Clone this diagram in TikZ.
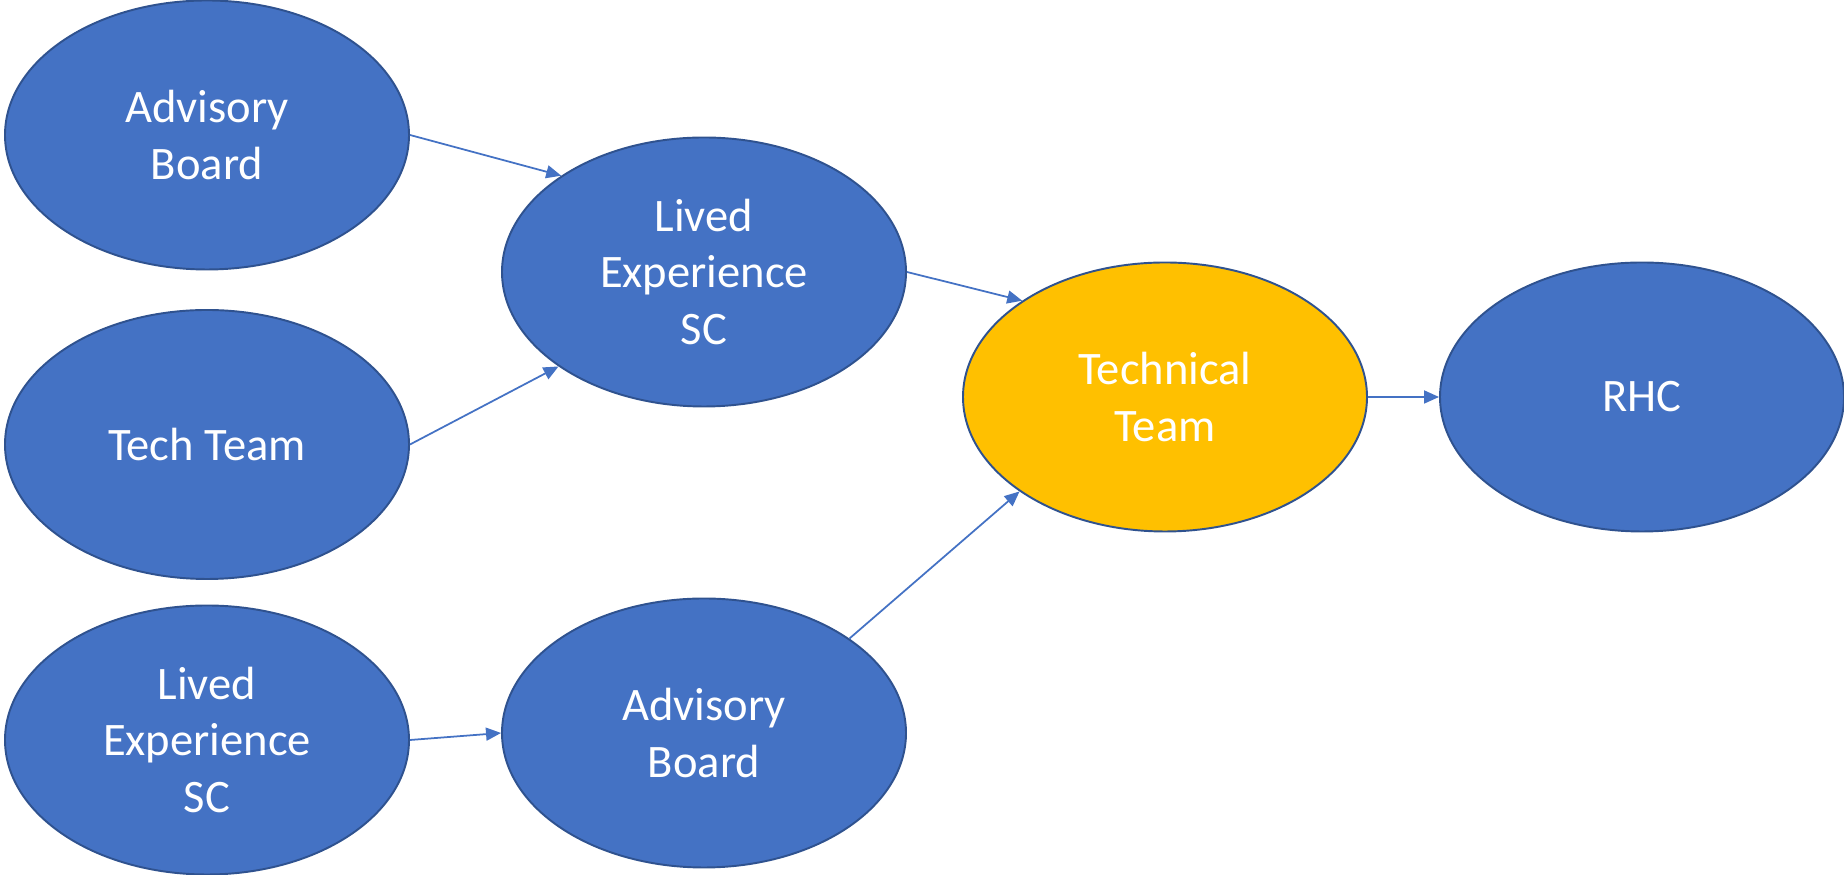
\documentclass[tikz,border=0pt]{standalone}
\usepackage{fontspec}
\setmainfont{Carlito}
\usetikzlibrary{arrows.meta,shapes.geometric}
\definecolor{boxblue}{HTML}{4472C4}
\definecolor{rimblue}{HTML}{2F528F}
\definecolor{teamgold}{HTML}{FFC000}
\begin{document}
\begin{tikzpicture}[line width=1.1pt, >={Triangle[length=0.3cm,width=0.26cm]}]
\tikzstyle{group}=[ellipse, draw=rimblue, fill=boxblue, text=white, align=center,
  inner sep=0pt, minimum width=8.08cm, minimum height=5.38cm,
  font=\fontsize{26.5}{32}\selectfont]
\tikzstyle{link}=[->, draw=boxblue, line width=1pt]
\useasboundingbox (0,0) rectangle (36.88,17.5);

\node[group] (AB)    at ( 4.14,14.80) {Advisory\\Board};
\node[group] (TT)    at ( 4.14, 8.61) {Tech Team};
\node[group] (LE)    at ( 4.14, 2.70) {Lived\\Experience\\SC};
\node[group] (LEsc)  at (14.08,12.06) {Lived\\Experience\\SC};
\node[group] (ABd)   at (14.08, 2.84) {Advisory\\Board};
\node[group,fill=teamgold] (TechT) at (23.30, 9.56) {Technical\\Team};
\node[group] (RHC)   at (32.84, 9.56) {RHC};

\draw[link] (AB.east) -- (LEsc.146.3);
\draw[link] (TT.east) -- (LEsc.213.7);
\draw[link] (LE.east) -- (ABd.west);
\draw[link] (LEsc.east) -- (TechT.146.3);
\draw[link] (ABd.33.7) -- (TechT.213.7);
\draw[link] (TechT.east) -- (RHC.west);
\end{tikzpicture}
\end{document}
